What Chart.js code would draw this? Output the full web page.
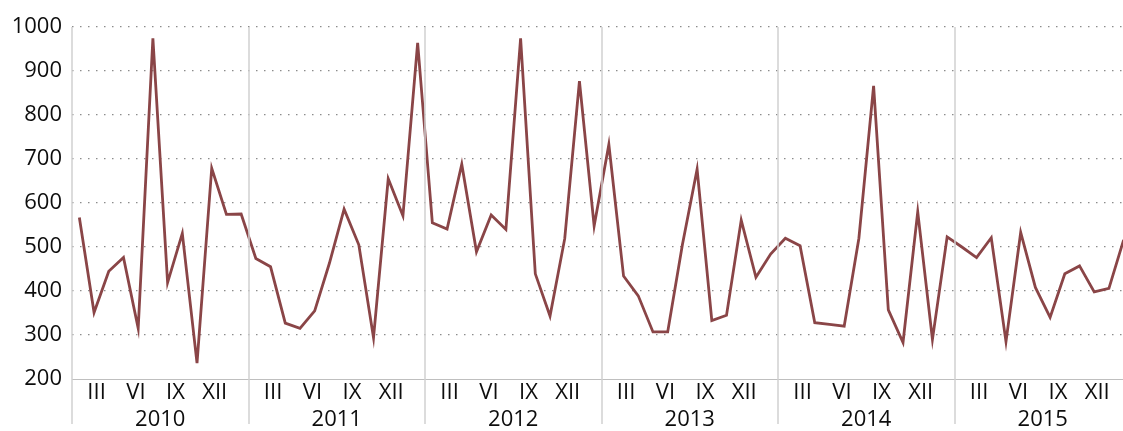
<!DOCTYPE html>
<html lang="en">
<head>
<meta charset="UTF-8">
<title>Monthly series 2010-2015</title>
<script src="https://cdn.jsdelivr.net/npm/chart.js"></script>
<style>
    html, body { margin: 0; padding: 0; background: #fff; overflow: hidden; }
    #wrap { width: 1131px; height: 431px; }
</style>
</head>
<body>
<div id="wrap"><canvas id="chart"></canvas></div>
<script>
    const years = ['2010', '2011', '2012', '2013', '2014', '2015'];
    const monthTicks = ['III', 'VI', 'IX', 'XII'];
    // values per month, one array per year
    const v2010 = [567, 351, 445, 476, 315, 974, 419, 531, 236, 679, 574, 575];
    const v2011 = [474, 455, 327, 315, 355, 463, 586, 505, 294, 655, 571, 964];
    const v2012 = [555, 541, 688, 489, 573, 540, 974, 439, 343, 519, 877, 548];
    const v2013 = [733, 434, 389, 307, 307, 505, 677, 333, 345, 561, 431, 484];
    const v2014 = [520, 503, 328, 324, 320, 520, 866, 357, 283, 580, 290, 523];
    const v2015 = [500, 476, 521, 285, 533, 408, 340, 439, 457, 398, 406, 516];
    const yTicks = [200, 300, 400, 500, 600, 700, 800, 900, 1000];

    const values = [].concat(v2010, v2011, v2012, v2013, v2014, v2015);
    const labels = [];
    years.forEach(y => { for (let m = 1; m <= 12; m++) labels.push(y + '-' + m); });

    const font = '"Open Sans", "Liberation Sans", sans-serif';

    // month labels, year labels and year separators under the plot
    const yearAxis = {
        id: 'yearAxis',
        afterDraw(chart) {
            const c = chart.ctx;
            const x = chart.scales.x;
            const area = chart.chartArea;
            const step = x.getPixelForValue(1) - x.getPixelForValue(0);
            c.save();
            c.strokeStyle = '#bfbfbf';
            c.lineWidth = 1.2;
            c.beginPath();
            c.moveTo(area.left, area.bottom + 0.5);
            c.lineTo(area.right, area.bottom + 0.5);
            c.stroke();
            c.strokeStyle = '#d0d0d0';
            c.lineWidth = 1.5;
            for (let i = 0; i <= years.length; i++) {
                const px = Math.round(x.getPixelForValue(i * 12) - step / 2);
                c.beginPath();
                c.moveTo(px, area.top);
                c.lineTo(px, area.bottom + 45);
                c.stroke();
            }
            c.fillStyle = '#0d0d0d';
            c.font = '22px ' + font;
            c.textAlign = 'center';
            c.textBaseline = 'middle';
            const pos = [1.67, 4.35, 7.04, 9.7];
            years.forEach((y, i) => {
                const start = x.getPixelForValue(i * 12) - step / 2;
                monthTicks.forEach((t, k) => {
                    c.fillText(t, start + pos[k] * step, area.bottom + 14);
                });
                c.fillText(y, start + 6 * step, area.bottom + 41);
            });
            c.restore();
        }
    };

    new Chart(document.getElementById('chart'), {
        type: 'line',
        data: {
            labels: labels,
            datasets: [{
                data: values,
                borderColor: '#8a4547',
                borderWidth: 2.8,
                pointRadius: 0,
                tension: 0,
                fill: false
            }]
        },
        options: {
            responsive: true,
            maintainAspectRatio: false,
            animation: false,
            layout: { padding: { top: 27, bottom: 52, left: 0, right: 0 } },
            plugins: { legend: { display: false }, tooltip: { enabled: false } },
            scales: {
                x: {
                    type: 'category',
                    offset: true,
                    display: false
                },
                y: {
                    min: 200,
                    max: 1000,
                    afterFit(scale) { scale.width = 72; },
                    afterBuildTicks(scale) { scale.ticks = yTicks.map(v => ({ value: v })); },
                    border: { display: false, dash: [1.5, 6.5] },
                    grid: {
                        drawTicks: false,
                        color: ctx => ctx.tick && ctx.tick.value === 200 ? 'rgba(0,0,0,0)' : '#8c8c8c',
                        lineWidth: 1.3
                    },
                    ticks: {
                        padding: 10,
                        color: '#0d0d0d',
                        font: { family: font, size: 22 },
                        callback: v => String(v)
                    }
                }
            }
        },
        plugins: [yearAxis]
    });
</script>
</body>
</html>
